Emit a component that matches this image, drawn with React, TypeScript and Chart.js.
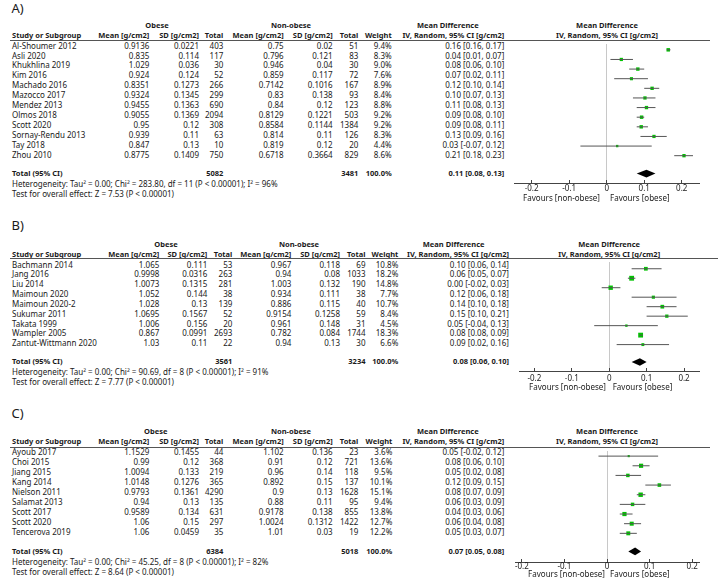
import React, { useEffect, useRef } from "react";
import { Chart, registerables } from "chart.js";

Chart.register(...registerables);

// ---------------- Panel A data ----------------
const studiesA = ["Al-Shoumer 2012", "Asli 2020", "Khukhlina 2019", "Kim 2016", "Machado 2016", "Mazocco 2017", "Mendez 2013", "Olmos 2018", "Scott 2020", "Sornay-Rendu 2013", "Tay 2018", "Zhou 2010"];
const obeseMeanA = [0.9136, 0.835, 1.029, 0.924, 0.8351, 0.9324, 0.9455, 0.9055, 0.95, 0.939, 0.847, 0.8775];
const obeseSdA = [0.0221, 0.114, 0.036, 0.124, 0.1273, 0.1345, 0.1363, 0.1369, 0.12, 0.11, 0.13, 0.1409];
const obeseNA = [403, 117, 30, 52, 266, 299, 690, 2094, 308, 63, 10, 750];
const nonMeanA = [0.75, 0.796, 0.946, 0.859, 0.7142, 0.83, 0.84, 0.8129, 0.8584, 0.814, 0.819, 0.6718];
const nonSdA = [0.02, 0.121, 0.04, 0.117, 0.1016, 0.138, 0.12, 0.1221, 0.1144, 0.11, 0.12, 0.3664];
const nonNA = [51, 83, 30, 72, 167, 93, 123, 503, 1384, 126, 20, 829];
const weightA = [9.4, 8.3, 9.0, 7.6, 8.9, 8.4, 8.8, 9.2, 9.2, 8.3, 4.4, 8.6];
const mdA = [0.164, 0.039, 0.083, 0.066, 0.121, 0.102, 0.106, 0.093, 0.092, 0.126, 0.028, 0.206];
const loA = [0.16, 0.01, 0.06, 0.02, 0.10, 0.07, 0.08, 0.08, 0.08, 0.09, -0.07, 0.18];
const hiA = [0.17, 0.07, 0.10, 0.11, 0.14, 0.13, 0.13, 0.10, 0.11, 0.16, 0.12, 0.23];
const totalA = { obeseN: 5082, nonN: 3481, md: 0.106, lo: 0.08, hi: 0.13 };
const hetA = { tau2: "0.00", chi2: "283.80", df: 11, p: "< 0.00001", i2: 96 };
const testA = { z: "7.53", p: "< 0.00001" };

// ---------------- Panel B data ----------------
const studiesB = ["Bachmann 2014", "Jang 2016", "Liu 2014", "Maimoun 2020", "Maimoun 2020-2", "Sukumar 2011", "Takata 1999", "Wampler 2005", "Zantut-Wittmann 2020"];
const obeseMeanB = [1.065, 0.9998, 1.0073, 1.052, 1.028, 1.0695, 1.006, 0.867, 1.03];
const obeseSdB = [0.111, 0.0316, 0.1315, 0.144, 0.13, 0.1567, 0.156, 0.0991, 0.11];
const obeseNB = [53, 263, 281, 38, 139, 52, 20, 2693, 22];
const nonMeanB = [0.967, 0.94, 1.003, 0.934, 0.886, 0.9154, 0.961, 0.782, 0.94];
const nonSdB = [0.118, 0.08, 0.132, 0.111, 0.115, 0.1258, 0.148, 0.084, 0.13];
const nonNB = [69, 1033, 190, 38, 40, 59, 31, 1744, 30];
const weightB = [10.8, 18.2, 14.8, 7.7, 10.7, 8.4, 4.5, 18.3, 6.6];
const mdB = [0.098, 0.06, 0.004, 0.118, 0.142, 0.154, 0.046, 0.084, 0.09];
const loB = [0.06, 0.05, -0.02, 0.06, 0.10, 0.10, -0.04, 0.08, 0.02];
const hiB = [0.14, 0.07, 0.03, 0.18, 0.18, 0.21, 0.13, 0.09, 0.16];
const totalB = { obeseN: 3561, nonN: 3234, md: 0.082, lo: 0.06, hi: 0.10 };
const hetB = { tau2: "0.00", chi2: "90.69", df: 8, p: "< 0.00001", i2: 91 };
const testB = { z: "7.77", p: "< 0.00001" };

// ---------------- Panel C data ----------------
const studiesC = ["Ayoub 2017", "Choi 2015", "Jiang 2015", "Kang 2014", "Nielson 2011", "Salamat 2013", "Scott 2017", "Scott 2020", "Tencerova 2019"];
const obeseMeanC = [1.1529, 0.99, 1.0094, 1.0148, 0.9793, 0.94, 0.9589, 1.06, 1.06];
const obeseSdC = [0.1455, 0.12, 0.133, 0.1276, 0.1361, 0.13, 0.134, 0.15, 0.0459];
const obeseNC = [44, 368, 219, 365, 4290, 135, 631, 297, 35];
const nonMeanC = [1.102, 0.91, 0.96, 0.892, 0.9, 0.88, 0.9178, 1.0024, 1.01];
const nonSdC = [0.136, 0.12, 0.14, 0.15, 0.13, 0.11, 0.138, 0.1312, 0.03];
const nonNC = [23, 721, 118, 137, 1628, 95, 855, 1422, 19];
const weightC = [3.6, 13.6, 9.5, 10.1, 15.1, 9.4, 13.8, 12.7, 12.2];
const mdC = [0.051, 0.08, 0.049, 0.123, 0.079, 0.06, 0.041, 0.058, 0.05];
const loC = [-0.02, 0.06, 0.02, 0.09, 0.07, 0.03, 0.03, 0.04, 0.03];
const hiC = [0.12, 0.10, 0.08, 0.15, 0.09, 0.09, 0.06, 0.08, 0.07];
const totalC = { obeseN: 6384, nonN: 5018, md: 0.066, lo: 0.05, hi: 0.08 };
const hetC = { tau2: "0.00", chi2: "45.25", df: 8, p: "< 0.00001", i2: 82 };
const testC = { z: "8.64", p: "< 0.00001" };

// shared axis tick labels
const xTicks = [-0.2, -0.1, 0, 0.1, 0.2];
const groupLabels = ["Obese", "Non-obese"];
const favoursLabels = ["Favours [non-obese]", "Favours [obese]"];

// ---------------- styles / layout ----------------
const PAGE_W = 718;
const FONT = '"Noto Sans", "Liberation Sans", Arial, sans-serif';
const TEXT = "#1a1a1a";
const GREEN = "#00c400";
const CI_COLOR = "#555";
const AXIS = "#444";
const ZERO = "#c8c8c8";

const layoutA = {
  letterY: 8.5, groupY: 25, subY: 35, ruleY: 40, ruleR: 710, rowY0: 46, rowStep: 9.9, totalY: 173.3, hetY: 184.3, testY: 194,
  c: { oMean: 149.3, oSd: 199, oN: 223.3, nMean: 283.7, nSd: 332.7, nN: 358.3, w: 391.7, ci: 504.3 },
  obeseC: 157, nonC: 291, mdHeadC: 447.8, plotHeadC: 607,
  plotL: 510, plotR: 703, axisY: 183, xMin: -0.247, xMax: 0.246, tickPad: 4.2,
  favY: 198.5, favR: 600, favL: 610,
};
const layoutB = {
  letterY: 225.5, groupY: 244.3, subY: 254, ruleY: 258, ruleR: 718, rowY0: 265, rowStep: 9.83, totalY: 361.7, hetY: 372.3, testY: 382.7,
  c: { oMean: 159.3, oSd: 207.3, oN: 232.3, nMean: 291.3, nSd: 340, nN: 365.5, w: 398.3, ci: 509 },
  obeseC: 166, nonC: 299, mdHeadC: 453.7, plotHeadC: 609.2,
  plotL: 515, plotR: 703, axisY: 371, xMin: -0.241, xMax: 0.24, tickPad: 5.5,
  favY: 387.3, favR: 606, favL: 612.7,
};
const layoutC = {
  letterY: 413.5, groupY: 431.7, subY: 441.7, ruleY: 447, ruleR: 710, rowY0: 452.3, rowStep: 10, totalY: 551, hetY: 562.7, testY: 572.7,
  c: { oMean: 149.3, oSd: 199, oN: 223.3, nMean: 283.7, nSd: 332.7, nN: 358.3, w: 392.3, ci: 504.3 },
  obeseC: 155.8, nonC: 291, mdHeadC: 447.8, plotHeadC: 607,
  plotL: 511, plotR: 703, axisY: 562, xMin: -0.216, xMax: 0.216, tickPad: 2.8,
  favY: 574.3, favR: 605, favL: 610,
};

const panels = [
  { label: "A)", studies: studiesA, oMean: obeseMeanA, oSd: obeseSdA, oN: obeseNA, nMean: nonMeanA, nSd: nonSdA, nN: nonNA, weight: weightA, md: mdA, lo: loA, hi: hiA, total: totalA, het: hetA, test: testA, lay: layoutA },
  { label: "B)", studies: studiesB, oMean: obeseMeanB, oSd: obeseSdB, oN: obeseNB, nMean: nonMeanB, nSd: nonSdB, nN: nonNB, weight: weightB, md: mdB, lo: loB, hi: hiB, total: totalB, het: hetB, test: testB, lay: layoutB },
  { label: "C)", studies: studiesC, oMean: obeseMeanC, oSd: obeseSdC, oN: obeseNC, nMean: nonMeanC, nSd: nonSdC, nN: nonNC, weight: weightC, md: mdC, lo: loC, hi: hiC, total: totalC, het: hetC, test: testC, lay: layoutC },
];

const ciText = (m: number, l: number, h: number) => `${m.toFixed(2)} [${l.toFixed(2)}, ${h.toFixed(2)}]`;

function Txt(props: { x: number; y: number; align?: "left" | "right" | "center"; bold?: boolean; size?: number; lh?: number; children: any }) {
  const { x, y, align = "left", bold = false, lh = 10, children } = props;
  const size = props.size ?? (bold ? 7.5 : 8);
  const style: any = {
    position: "absolute",
    top: y - lh / 2 - 0.4,
    lineHeight: lh + "px",
    fontSize: size,
    whiteSpace: "nowrap",
    fontWeight: bold ? "bold" : "normal",
  };
  if (align === "left") style.left = x;
  else if (align === "right") style.right = PAGE_W - x;
  else {
    style.left = x - 150;
    style.width = 300;
    style.textAlign = "center";
  }
  return <div style={style}>{children}</div>;
}

const X_AXIS_H = 16;

function Forest({ p }: { p: any }) {
  const ref = useRef<HTMLCanvasElement>(null);
  const lay = p.lay;
  const top = Math.round(lay.ruleY);
  const left = Math.round(lay.plotL);
  const width = Math.round(lay.plotR - lay.plotL);
  const plotH = Math.round(lay.axisY) - top;
  const height = plotH + X_AXIS_H;

  useEffect(() => {
    const canvas = ref.current!;
    const yMin = (top - lay.rowY0) / lay.rowStep;
    const yMax = (top + plotH - lay.rowY0) / lay.rowStep;
    const totalIdx = (lay.totalY - lay.rowY0) / lay.rowStep;

    const ciSets = p.studies.map((_: string, i: number) => ({
      data: [
        { x: p.lo[i], y: i },
        { x: p.hi[i], y: i },
      ],
      showLine: true,
      borderColor: CI_COLOR,
      borderWidth: 1,
      pointRadius: 0,
      pointHoverRadius: 0,
    }));
    const squares = {
      data: p.md.map((m: number, i: number) => ({ x: m, y: i })),
      pointStyle: "rect",
      pointRadius: p.weight.map((w: number) => 0.8 * Math.sqrt(w)),
      backgroundColor: GREEN,
      borderColor: GREEN,
      pointBorderWidth: 0,
      borderWidth: 0,
    };

    const diamond = {
      id: "diamond",
      afterDatasetsDraw(chart: any) {
        const xs = chart.scales.x;
        const ys = chart.scales.y;
        const ctx = chart.ctx;
        const t = p.total;
        const yc = ys.getPixelForValue(totalIdx);
        const yt = ys.getPixelForValue(totalIdx - 0.4);
        const yb = ys.getPixelForValue(totalIdx + 0.4);
        ctx.save();
        ctx.beginPath();
        ctx.moveTo(xs.getPixelForValue(t.lo), yc);
        ctx.lineTo(xs.getPixelForValue(t.md), yt);
        ctx.lineTo(xs.getPixelForValue(t.hi), yc);
        ctx.lineTo(xs.getPixelForValue(t.md), yb);
        ctx.closePath();
        ctx.fillStyle = "#000";
        ctx.fill();
        ctx.restore();
      },
    };

    const chart = new Chart(canvas, {
      type: "scatter",
      data: { datasets: [...ciSets, squares] as any },
      options: {
        responsive: false,
        animation: false,
        events: [],
        devicePixelRatio: 1,
        layout: { padding: 0 },
        plugins: { legend: { display: false }, tooltip: { enabled: false } },
        scales: {
          x: {
            type: "linear",
            min: lay.xMin,
            max: lay.xMax,
            afterBuildTicks: (s: any) => {
              s.ticks = xTicks.map((v) => ({ value: v }));
            },
            afterFit: (s: any) => {
              s.height = X_AXIS_H;
            },
            ticks: {
              callback: (v: any) => String(v),
              font: { family: FONT, size: 8 },
              color: TEXT,
              padding: lay.tickPad,
              maxRotation: 0,
              autoSkip: false,
            },
            grid: {
              color: (c: any) => (c.tick && c.tick.value === 0 ? ZERO : "rgba(0,0,0,0)"),
              tickColor: AXIS,
              tickLength: -3,
              lineWidth: 1,
            },
            border: { color: AXIS, width: 1 },
          },
          y: { type: "linear", display: false, reverse: true, min: yMin, max: yMax },
        },
      } as any,
      plugins: [diamond],
    });
    return () => chart.destroy();
  }, []);

  return <canvas ref={ref} width={width} height={height} style={{ position: "absolute", left, top, width, height }} />;
}

function Panel({ p }: { p: any }) {
  const lay = p.lay;
  const c = lay.c;
  const rows = p.studies.map((s: string, i: number) => {
    const y = lay.rowY0 + i * lay.rowStep;
    return (
      <React.Fragment key={s}>
        <Txt x={12} y={y}>{s}</Txt>
        <Txt x={c.oMean} y={y} align="right">{String(p.oMean[i])}</Txt>
        <Txt x={c.oSd} y={y} align="right">{String(p.oSd[i])}</Txt>
        <Txt x={c.oN} y={y} align="right">{String(p.oN[i])}</Txt>
        <Txt x={c.nMean} y={y} align="right">{String(p.nMean[i])}</Txt>
        <Txt x={c.nSd} y={y} align="right">{String(p.nSd[i])}</Txt>
        <Txt x={c.nN} y={y} align="right">{String(p.nN[i])}</Txt>
        <Txt x={c.w} y={y} align="right">{p.weight[i].toFixed(1) + "%"}</Txt>
        <Txt x={c.ci} y={y} align="right">{ciText(p.md[i], p.lo[i], p.hi[i])}</Txt>
      </React.Fragment>
    );
  });
  const h = p.het;
  const t = p.test;
  return (
    <>
      <Txt x={11.5} y={lay.letterY} size={13} lh={16}>{p.label}</Txt>
      <Txt x={lay.obeseC} y={lay.groupY} align="center" bold>{groupLabels[0]}</Txt>
      <Txt x={lay.nonC} y={lay.groupY} align="center" bold>{groupLabels[1]}</Txt>
      <Txt x={lay.mdHeadC} y={lay.groupY} align="center" bold>Mean Difference</Txt>
      <Txt x={lay.plotHeadC} y={lay.groupY} align="center" bold>Mean Difference</Txt>
      <Txt x={12} y={lay.subY} bold>Study or Subgroup</Txt>
      <Txt x={c.oMean} y={lay.subY} align="right" bold>Mean [g/cm2]</Txt>
      <Txt x={c.oSd} y={lay.subY} align="right" bold>SD [g/cm2]</Txt>
      <Txt x={c.oN} y={lay.subY} align="right" bold>Total</Txt>
      <Txt x={c.nMean} y={lay.subY} align="right" bold>Mean [g/cm2]</Txt>
      <Txt x={c.nSd} y={lay.subY} align="right" bold>SD [g/cm2]</Txt>
      <Txt x={c.nN} y={lay.subY} align="right" bold>Total</Txt>
      <Txt x={c.w} y={lay.subY} align="right" bold>Weight</Txt>
      <Txt x={c.ci} y={lay.subY} align="right" bold>IV, Random, 95% CI [g/cm2]</Txt>
      <Txt x={lay.plotHeadC} y={lay.subY} align="center" bold>IV, Random, 95% CI [g/cm2]</Txt>
      <div style={{ position: "absolute", left: 10, top: Math.round(lay.ruleY), width: lay.ruleR - 10, height: 1, background: "#555" }} />
      {rows}
      <Txt x={12} y={lay.totalY} bold>Total (95% CI)</Txt>
      <Txt x={c.oN} y={lay.totalY} align="right" bold>{String(p.total.obeseN)}</Txt>
      <Txt x={c.nN} y={lay.totalY} align="right" bold>{String(p.total.nonN)}</Txt>
      <Txt x={c.w} y={lay.totalY} align="right" bold>100.0%</Txt>
      <Txt x={c.ci} y={lay.totalY} align="right" bold>{ciText(p.total.md, p.total.lo, p.total.hi)}</Txt>
      <Txt x={12} y={lay.hetY}>{`Heterogeneity: Tau² = ${h.tau2}; Chi² = ${h.chi2}, df = ${h.df} (P ${h.p}); I² = ${h.i2}%`}</Txt>
      <Txt x={12} y={lay.testY}>{`Test for overall effect: Z = ${t.z} (P ${t.p})`}</Txt>
      <Forest p={p} />
      <Txt x={lay.favR} y={lay.favY} align="right">{favoursLabels[0]}</Txt>
      <Txt x={lay.favL} y={lay.favY}>{favoursLabels[1]}</Txt>
    </>
  );
}

export default function App() {
  return (
    <div
      style={{
        position: "absolute",
        left: 0,
        top: 0,
        width: PAGE_W,
        height: 586,
        background: "#fff",
        fontFamily: FONT,
        fontSize: 8,
        color: TEXT,
        overflow: "hidden",
      }}
    >
      {panels.map((p) => (
        <Panel key={p.label} p={p} />
      ))}
    </div>
  );
}
